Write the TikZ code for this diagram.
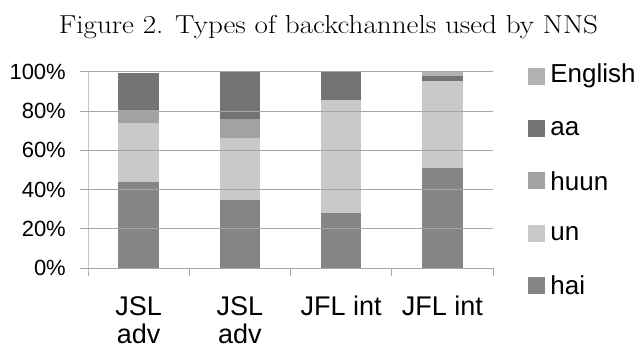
\documentclass[tikz,border=0pt]{standalone}
\usepackage{fontspec}
\newfontfamily\chartfont{Liberation Sans}
\usepackage{graphicx}
\usepackage{tikz}
\usepackage{pgf,pgffor}

\definecolor{haicol}{HTML}{858585}
\definecolor{uncol}{HTML}{C8C9CB}
\definecolor{huuncol}{HTML}{A1A3A2}
\definecolor{aacol}{HTML}{747474}
\definecolor{engcol}{HTML}{B2B2B2}
\definecolor{gridcol}{HTML}{A6A6A6}

\tikzset{
  gridline/.style={draw=gridcol, line width=1pt},
  ylab/.style={anchor=east, inner sep=0pt, font=\chartfont\fontsize{22}{24}\selectfont},
  xlab/.style={anchor=north, inner sep=0pt, align=center, font=\chartfont\fontsize{27}{28}\selectfont},
  legsq/.style={draw=none, minimum size=17pt, inner sep=0pt},
  legtext/.style={anchor=west, inner sep=0pt, font=\chartfont\fontsize{26}{28}\selectfont}
}

\begin{document}
\begin{tikzpicture}[x=1pt,y=-1pt]
			\useasboundingbox (0,0) rectangle (640,349);

			\node [anchor=base, inner sep=0pt, font=\fontsize{26}{28}\selectfont] (title) at (328.5,33) {\scalebox{1.12}[1]{Figure 2. Types of backchannels used by NNS}};

			% plot area, 0% at y=268.3, one unit = one percent
			\begin{scope}[shift={(0,268.3)}, y=1.966pt]
			\coordinate (o) at (88,0);
			\coordinate (top) at (88,100);

			% bars, width 40.5
			\fill [haicol]  (118.3,0) rectangle (158.8,43.9);
			\fill [uncol]   (118.3,43.9) rectangle (158.8,73.9);
			\fill [huuncol] (118.3,73.9) rectangle (158.8,80.5);
			\fill [aacol]   (118.3,80.5) rectangle (158.8,99.4);

			\fill [haicol]  (219.6,0) rectangle (260.1,34.7);
			\fill [uncol]   (219.6,34.7) rectangle (260.1,66.2);
			\fill [huuncol] (219.6,66.2) rectangle (260.1,75.9);
			\fill [aacol]   (219.6,75.9) rectangle (260.1,100);

			\fill [haicol]  (320.8,0) rectangle (361.3,28.1);
			\fill [uncol]   (320.8,28.1) rectangle (361.3,85.6);
			\fill [aacol]   (320.8,85.6) rectangle (361.3,100);

			\fill [haicol]  (422.1,0) rectangle (462.6,51.2);
			\fill [uncol]   (422.1,51.2) rectangle (462.6,95.4);
			\fill [aacol]   (422.1,95.4) rectangle (462.6,97.9);
			\fill [engcol]  (422.1,97.9) rectangle (462.6,100);

			% grid lines and y labels
			\foreach \p in {0,20,...,100} {
				\draw [gridline] (80,\p) -- (493,\p);
				\node [ylab] (y\p) at (66,\p) {\p\%};
			}
			\draw [gridline] (top) -- (o) -- ++(0,-4);
			\draw [gridline] (189.25,0) -- ++(0,-4);
			\draw [gridline] (290.5,0) -- ++(0,-4);
			\draw [gridline] (391.75,0) -- ++(0,-4);
			\draw [gridline] (493,0) -- ++(0,-4);
			\end{scope}

			% category labels
			\node [xlab] (catA) at (138.6,296) {JSL\\adv};
			\node [xlab] (catB) at (239.9,296) {JSL\\adv};
			\node [xlab] (catC) at (341.1,296) {JFL int};
			\node [xlab] (catD) at (442.4,296) {JFL int};

			% legend
			\node [legsq, fill=engcol]  (sqEnglish) at (536.5,76) {};
			\node [legsq, fill=aacol]   (sqAa) at (536.5,128.4) {};
			\node [legsq, fill=huuncol] (sqHuun) at (536.5,180.8) {};
			\node [legsq, fill=uncol]   (sqUn) at (536.5,233.2) {};
			\node [legsq, fill=haicol]  (sqHai) at (536.5,285.6) {};
			\node [legtext] (txEnglish) at ([xshift=5pt]sqEnglish.east) {English};
			\node [legtext] (txAa) at ([xshift=5pt]sqAa.east) {aa};
			\node [legtext] (txHuun) at ([xshift=5pt]sqHuun.east) {huun};
			\node [legtext] (txUn) at ([xshift=5pt]sqUn.east) {un};
			\node [legtext] (txHai) at ([xshift=5pt]sqHai.east) {hai};

		\end{tikzpicture}
\end{document}
